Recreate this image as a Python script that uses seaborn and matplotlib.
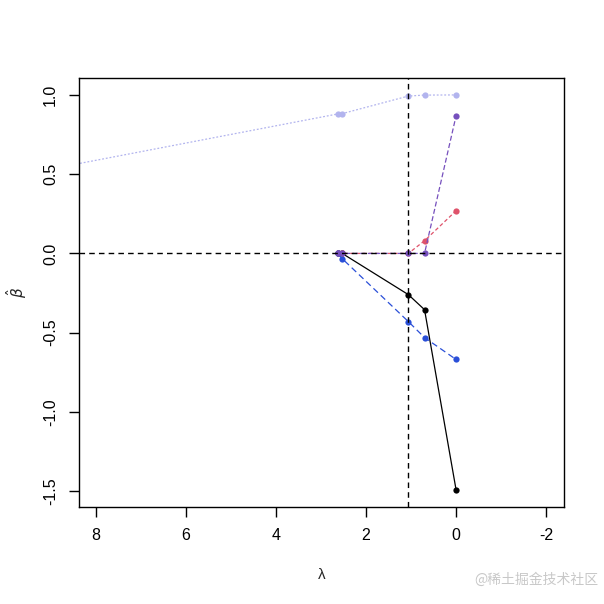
import matplotlib
matplotlib.use("Agg")
import matplotlib.pyplot as plt
import numpy as np
import pandas as pd
import seaborn as sns

# lambda values along the path (largest one lies off the left edge)
lam = [18.8, 2.63, 2.53, 1.06, 0.70, 0.0]

beta_black = [np.nan, 0.0, 0.0, -0.26, -0.355, -1.49]
beta_pink = [np.nan, 0.0, 0.0, 0.0, 0.080, 0.269]
beta_blue = [np.nan, 0.0, -0.033, -0.430, -0.531, -0.669]
beta_purple = [np.nan, 0.0, 0.0, 0.0, 0.0, 0.867]
beta_light = [0.0, 0.880, 0.882, 0.993, 0.999, 1.0]

lam_cut = 1.067

series = {
    "black": beta_black,
    "pink": beta_pink,
    "blue": beta_blue,
    "purple": beta_purple,
    "light": beta_light,
}
colors = {"black": "#000000", "pink": "#DF536B", "blue": "#2A4FD8",
          "purple": "#7650BD", "light": "#B2B4EE"}
dashes = {"black": (None, None), "pink": (3, 2), "blue": (5, 3),
          "purple": (4, 2), "light": (1.5, 1.5)}

sns.set_style("white")
plt.rcParams['font.family'] = ['Liberation Sans', 'DejaVu Sans']

fig = plt.figure(figsize=(6.04, 6.04), dpi=100)
ax = fig.add_axes([0.1308, 0.1606, 0.8030, 0.7103])

for name, vals in series.items():
    df = pd.DataFrame({"lam": lam, "beta": vals}).dropna()
    sns.lineplot(data=df, x="lam", y="beta", ax=ax, color=colors[name],
                 estimator=None, sort=False, linewidth=0.9,
                 marker="o", markersize=4.5, markeredgewidth=0)
    line = ax.lines[-1]
    if dashes[name][0] is not None:
        line.set_dashes(dashes[name])

ax.axvline(lam_cut, color="black", linestyle=(0, (4, 3)), linewidth=1)
ax.axhline(0, color="black", linestyle=(0, (4, 3)), linewidth=1)

ax.set_xlim(8.38, -2.4)
ax.set_ylim(-1.6, 1.107)
ax.set_xticks([8, 6, 4, 2, 0, -2])
ax.set_yticks([-1.5, -1.0, -0.5, 0.0, 0.5, 1.0])
ax.set_xticklabels(["8", "6", "4", "2", "0", "-2"])
ax.set_yticklabels(["-1.5", "-1.0", "-0.5", "0.0", "0.5", "1.0"], rotation=90, va="center")
ax.tick_params(axis="both", direction="out", length=7, width=1, labelsize=11.5,
               color="black", labelcolor="black", pad=8, left=True, bottom=True)
for sp in ax.spines.values():
    sp.set_color("black")
    sp.set_linewidth(1)

ax.set_xlabel("λ", fontsize=11, labelpad=18)
ax.set_ylabel(r"$\hat{\beta}$", fontsize=11, labelpad=10)

fig.text(0.99, 0.04, "@稀土掘金技术社区", ha="right", va="center", fontsize=10,
         color="#c8c8c8", family=["Noto Sans CJK SC", "DejaVu Sans"])

fig.savefig("out.png", dpi=100, facecolor="white")
